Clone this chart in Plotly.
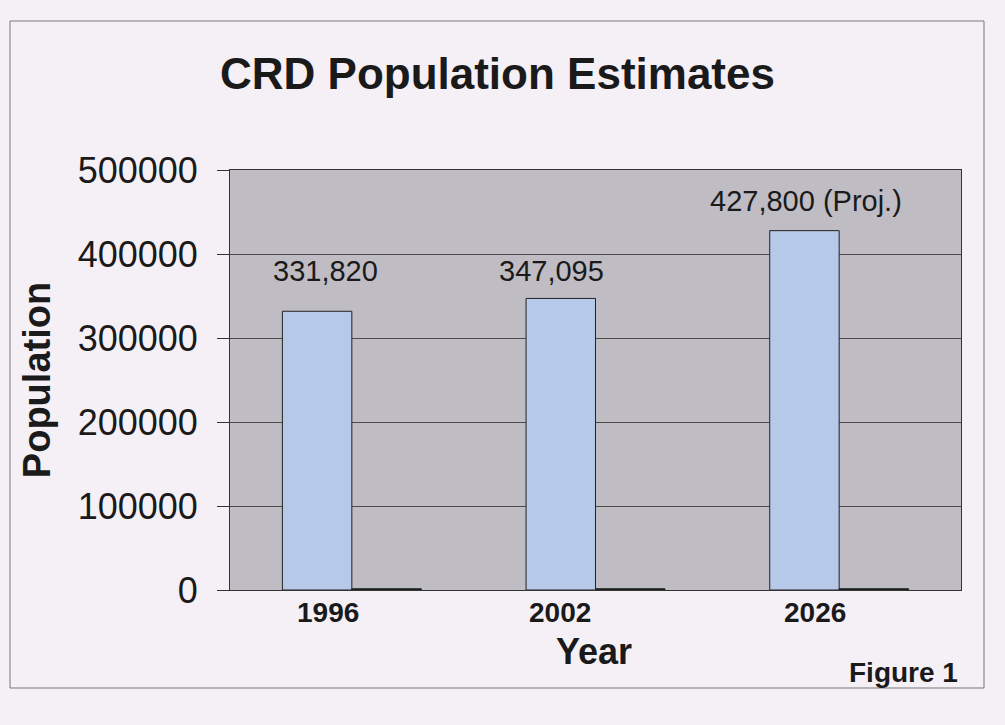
import plotly.graph_objects as go

years = ["1996", "2002", "2026"]
population = [331820, 347095, 427800]
labels = ["331,820", "347,095", "427,800 (Proj.)"]
second_series = [1500, 1500, 1500]
y_ticks = [0, 100000, 200000, 300000, 400000, 500000]

W, H = 1005, 725
L, R, T, B = 230, 44, 170, 135
PW, PH = W - L - R, H - T - B
label_shift = [40, 27, 30]
label_xshift = [9, -9, 2]
tick_xshift = [-24, -36, -24]


def px_x(x):
    return (x - L) / PW


def px_y(y):
    return (H - B - y) / PH


fig = go.Figure()
fig.add_trace(go.Bar(
    x=years, y=population,
    marker=dict(color="#b6c9e8", line=dict(color="#222222", width=1)),
    showlegend=False,
))
fig.add_trace(go.Bar(
    x=years, y=second_series,
    marker=dict(color="#1e2424", line=dict(color="#1e2424", width=1)),
    showlegend=False,
))

for i, (val, lab, ys, xs) in enumerate(zip(population, labels, label_shift, label_xshift)):
    fig.add_annotation(x=i, y=val, text=lab, showarrow=False, xref="x", yref="y",
                       xshift=xs - 35, yshift=ys, yanchor="middle", xanchor="center",
                       font=dict(size=29, color="#1a1a1a"))

# category labels under the axis (slightly left of the group centre as in the reference)
for i, (yr, xs) in enumerate(zip(years, tick_xshift)):
    fig.add_annotation(x=i, y=px_y(612), text=f"<b>{yr}</b>", showarrow=False,
                       xref="x", yref="paper", xshift=xs, yanchor="middle", xanchor="center",
                       font=dict(size=28, color="#1a1a1a"))

fig.update_layout(
    width=W, height=H,
    margin=dict(l=L, r=R, t=T, b=B),
    paper_bgcolor="#f5f0f6",
    plot_bgcolor="#c0bcc3",
    barmode="group", bargap=0.43, bargroupgap=0,
    font=dict(family="Liberation Sans, Arial", color="#1a1a1a"),
    title=dict(text="<b>CRD Population Estimates</b>", x=0.495, xanchor="center",
               y=1 - 74 / H, yanchor="middle", font=dict(size=44, color="#1a1a1a")),
    xaxis=dict(type="category", range=[-0.5, len(years) - 0.5], showgrid=False,
               showticklabels=False, ticks="",
               showline=True, linecolor="#333333", linewidth=1, mirror=True),
    yaxis=dict(range=[0, 500000], tickvals=y_ticks, ticktext=[str(v) for v in y_ticks],
               tickfont=dict(size=36, color="#1a1a1a"), showgrid=True,
               gridcolor="#4a4a4a", gridwidth=1, zeroline=False,
               showline=True, linecolor="#333333", linewidth=1, mirror=True,
               ticks="outside", ticklen=12, tickcolor="#333333", ticklabelstandoff=12,
               title=dict(text="<b>Population</b>", font=dict(size=38), standoff=15)),
)

fig.add_annotation(text="<b>Year</b>", xref="paper", yref="paper",
                   x=px_x(594), y=px_y(651), xanchor="center", yanchor="middle",
                   showarrow=False, font=dict(size=36, color="#1a1a1a"))

fig.add_shape(type="rect", xref="paper", yref="paper",
              x0=px_x(10), x1=px_x(984), y0=px_y(688), y1=px_y(21),
              line=dict(color="#777777", width=1), layer="below")
fig.add_annotation(text="<b>Figure 1</b>", xref="paper", yref="paper",
                   x=px_x(960), xanchor="right", y=px_y(672), yanchor="middle",
                   showarrow=False, font=dict(size=28, color="#1a1a1a"))

fig.write_html("out.html")
